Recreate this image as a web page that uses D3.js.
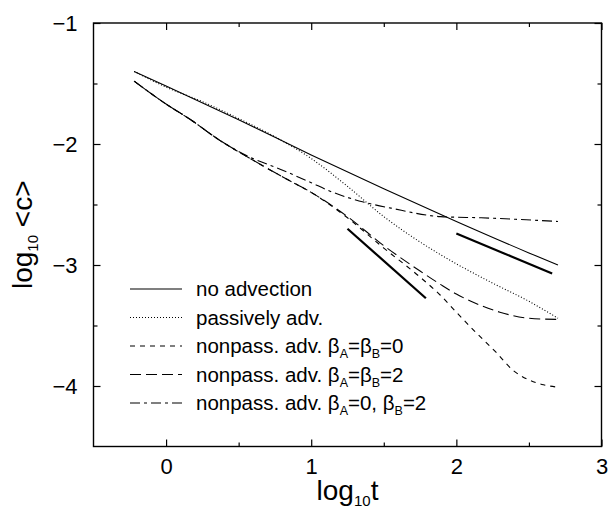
<!DOCTYPE html>
<html>
<head>
<meta charset="utf-8">
<script src="https://cdn.jsdelivr.net/npm/d3@7"></script>
<style>
  body { margin: 0; background: #fff; }
  svg { display: block; font-family: "Liberation Sans", Arial, Helvetica, sans-serif; }
  .axis text { font-size: 22px; fill: #000; }
  .axis line { stroke: #000; stroke-width: 1.2px; }
</style>
</head>
<body>
<div id="chart"></div>
<script>
const width = 608
const height = 512
const margin = { top: 23, right: 6.5, bottom: 65.5, left: 93.5 }

// axis ticks
const xMajor = [0, 1, 2, 3]
const xMinor = [0.5, 1.5, 2.5]
const yMajor = [-1, -2, -3, -4]
const yMinor = [-1.5, -2.5, -3.5]

// no advection (solid)
const noAdvX = [-0.22, 0, 0.5, 1, 1.5, 2, 2.5, 2.7]
const noAdvY = [-1.40, -1.52, -1.80, -2.09, -2.37, -2.64, -2.90, -3.00]

// passively advected (dotted)
const passX = [-0.22, 0, 0.25, 0.5, 0.75, 1, 1.25, 1.5, 1.75, 2, 2.25, 2.5, 2.7]
const passY = [-1.40, -1.53, -1.65, -1.79, -1.94, -2.12, -2.35, -2.60, -2.81, -2.99, -3.15, -3.30, -3.44]

// nonpassive, beta_A = beta_B = 0 (short dash)
const np0X = [-0.22, 0, 0.17, 0.37, 0.58, 0.83, 1.0, 1.25, 1.5, 1.75, 1.89, 2.0, 2.12, 2.28, 2.39, 2.5, 2.6, 2.7]
const np0Y = [-1.48, -1.67, -1.80, -1.97, -2.12, -2.29, -2.40, -2.61, -2.86, -3.10, -3.25, -3.39, -3.54, -3.73, -3.87, -3.95, -3.99, -4.01]

// nonpassive, beta_A = beta_B = 2 (long dash)
const np2X = [-0.22, 0, 0.17, 0.37, 0.58, 0.83, 1.0, 1.25, 1.5, 1.75, 1.89, 2.0, 2.12, 2.3, 2.5, 2.7]
const np2Y = [-1.48, -1.67, -1.80, -1.97, -2.12, -2.29, -2.40, -2.60, -2.84, -3.05, -3.16, -3.24, -3.31, -3.39, -3.44, -3.45]

// nonpassive, beta_A = 0, beta_B = 2 (dash-dot)
const np02X = [-0.22, 0, 0.17, 0.37, 0.58, 0.79, 1.0, 1.13, 1.36, 1.55, 1.89, 2.17, 2.7]
const np02Y = [-1.48, -1.67, -1.80, -1.97, -2.11, -2.21, -2.32, -2.39, -2.48, -2.53, -2.60, -2.61, -2.64]

// thick reference slopes
const guide1X = [1.25, 1.79]
const guide1Y = [-2.70, -3.275]
const guide2X = [2.0, 2.66]
const guide2Y = [-2.74, -3.07]

const series = [
  { xs: noAdvX, ys: noAdvY, dash: null, label: [["no advection"]] },
  { xs: passX, ys: passY, dash: "1,2", label: [["passively adv."]] },
  { xs: np0X, ys: np0Y, dash: "5,5", label: [["nonpass. adv. β"], ["A", true], ["=β"], ["B", true], ["=0"]] },
  { xs: np2X, ys: np2Y, dash: "11,5", label: [["nonpass. adv. β"], ["A", true], ["=β"], ["B", true], ["=2"]] },
  { xs: np02X, ys: np02Y, dash: "10,4,3,4", label: [["nonpass. adv. β"], ["A", true], ["=0, β"], ["B", true], ["=2"]] },
]

const innerWidth = width - margin.left - margin.right
const innerHeight = height - margin.top - margin.bottom

const svg = d3
  .select("#chart")
  .append("svg")
  .attr("width", width)
  .attr("height", height)

const group = svg
  .append("g")
  .attr("transform", `translate(${margin.left},${margin.top})`)

const x = d3.scaleLinear().domain([-0.5, 3]).range([0, innerWidth])
const y = d3.scaleLinear().domain([-4.5, -1]).range([innerHeight, 0])

// axes: ticks point inward, labels only on bottom/left
const fmt = d3.format("d")
const noText = g => g.selectAll("text").remove()

group.append("g").attr("class", "axis")
  .attr("transform", `translate(0,${innerHeight})`)
  .call(d3.axisBottom(x).tickValues(xMajor).tickFormat(fmt).tickSize(-7).tickSizeOuter(0).tickPadding(12))
group.append("g").attr("class", "axis")
  .attr("transform", `translate(0,${innerHeight})`)
  .call(d3.axisBottom(x).tickValues(xMinor).tickSize(-4).tickSizeOuter(0))
  .call(noText)
group.append("g").attr("class", "axis")
  .call(d3.axisTop(x).tickValues(xMajor).tickSize(-7).tickSizeOuter(0))
  .call(noText)
group.append("g").attr("class", "axis")
  .call(d3.axisTop(x).tickValues(xMinor).tickSize(-4).tickSizeOuter(0))
  .call(noText)
group.append("g").attr("class", "axis")
  .call(d3.axisLeft(y).tickValues(yMajor).tickFormat(fmt).tickSize(-7).tickSizeOuter(0).tickPadding(16))
group.append("g").attr("class", "axis")
  .call(d3.axisLeft(y).tickValues(yMinor).tickSize(-4).tickSizeOuter(0))
  .call(noText)
group.append("g").attr("class", "axis")
  .attr("transform", `translate(${innerWidth},0)`)
  .call(d3.axisRight(y).tickValues(yMajor).tickSize(-7).tickSizeOuter(0))
  .call(noText)
group.append("g").attr("class", "axis")
  .attr("transform", `translate(${innerWidth},0)`)
  .call(d3.axisRight(y).tickValues(yMinor).tickSize(-4).tickSizeOuter(0))
  .call(noText)

group.selectAll(".domain").remove()

// frame
group.append("rect")
  .attr("x", 0).attr("y", 0)
  .attr("width", innerWidth).attr("height", innerHeight)
  .attr("fill", "none")
  .attr("stroke", "#000")
  .attr("stroke-width", 1.4)

// curves
const line = d3.line()
  .x(d => x(d[0]))
  .y(d => y(d[1]))
  .curve(d3.curveMonotoneX)

const zip = (xs, ys) => xs.map((v, i) => [v, ys[i]])

group.append("g")
  .attr("class", "curves")
  .selectAll("path")
  .data(series)
  .join("path")
  .attr("d", s => line(zip(s.xs, s.ys)))
  .attr("fill", "none")
  .attr("stroke", "#000")
  .attr("stroke-width", 1.1)
  .attr("stroke-dasharray", s => s.dash)

group.append("g")
  .attr("class", "guides")
  .selectAll("path")
  .data([zip(guide1X, guide1Y), zip(guide2X, guide2Y)])
  .join("path")
  .attr("d", d3.line().x(d => x(d[0])).y(d => y(d[1])))
  .attr("fill", "none")
  .attr("stroke", "#000")
  .attr("stroke-width", 2.2)

// legend
const legend = svg.append("g")
  .attr("class", "legend")
  .attr("transform", "translate(130,289)")

const rows = legend.selectAll("g")
  .data(series)
  .join("g")
  .attr("transform", (d, i) => `translate(0,${i * 28.5})`)

rows.append("line")
  .attr("x1", 0).attr("x2", 52)
  .attr("stroke", "#000")
  .attr("stroke-width", 1.1)
  .attr("stroke-dasharray", d => d.dash)

rows.append("text")
  .attr("x", 66)
  .attr("y", 7)
  .style("font-size", "20.5px")
  .each(function (d) {
    const t = d3.select(this)
    d.label.forEach(([txt, sub]) => {
      const span = t.append("tspan").text(txt)
      if (sub) span.attr("dy", 5).style("font-size", "12.5px")
      else if (t.selectAll("tspan").size() > 1) span.attr("dy", -5)
    })
  })

// axis titles
svg.append("text")
  .attr("x", margin.left + innerWidth / 2)
  .attr("y", 500)
  .attr("text-anchor", "middle")
  .style("font-size", "28px")
  .call(t => {
    t.append("tspan").text("log")
    t.append("tspan").text("10").attr("dy", 6).style("font-size", "15px")
    t.append("tspan").text("t").attr("dy", -6)
  })

svg.append("text")
  .attr("transform", `translate(32,${margin.top + innerHeight / 2}) rotate(-90)`)
  .attr("text-anchor", "middle")
  .style("font-size", "28px")
  .call(t => {
    t.append("tspan").text("log")
    t.append("tspan").text("10").attr("dy", 6).style("font-size", "15px")
    t.append("tspan").text(" <c>").attr("dy", -6)
  })
</script>
</body>
</html>
